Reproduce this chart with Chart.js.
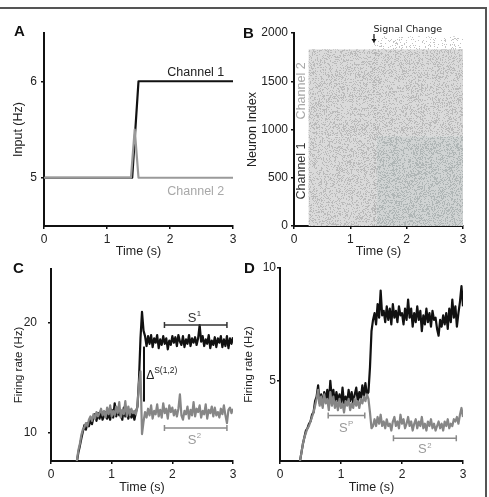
<!DOCTYPE html>
<html lang="en">
<head>
<meta charset="UTF-8">
<title>Input, raster and firing rates</title>
<script src="https://cdn.jsdelivr.net/npm/chart.js"></script>
<style>
  html, body { margin: 0; padding: 0; background: #fff; }
  #fig { position: relative; width: 489px; height: 497px; overflow: hidden; }
  #fig canvas { position: absolute; }
  .frame { position: absolute; left: 0; top: 7px; width: 485px; height: 495px;
           border-top: 2px solid #555; border-right: 2px solid #555; }
  .tag { position: absolute; font: bold 15px "Liberation Sans", Arial, sans-serif; color: #111; }
</style>
</head>
<body>
<div id="fig">
  <div class="frame"></div>
  <canvas id="cA" width="245" height="262" style="left:0;top:0"></canvas>
  <canvas id="cB" width="244" height="262" style="left:245px;top:0"></canvas>
  <canvas id="cC" width="240" height="247" style="left:0;top:250px"></canvas>
  <canvas id="cD" width="249" height="247" style="left:240px;top:250px"></canvas>
  <div class="tag" style="left:14px;top:22px">A</div>
  <div class="tag" style="left:243px;top:24px">B</div>
  <div class="tag" style="left:13px;top:259px">C</div>
  <div class="tag" style="left:244px;top:259px">D</div>
</div>

<script>
const FONT = '"Liberation Sans", Arial, Helvetica, sans-serif';
const INK = '#111';
const GREY = '#868686';

const timeTicks = [0, 1, 2, 3];

// A: input rates of the two channels
const inputT1 = [0, 1.4, 1.5, 3];
const inputV1 = [5, 5, 6, 6];
const inputT2 = [0, 1.38, 1.44, 1.5, 3];
const inputV2 = [5, 5, 5.5, 5, 5];

// B: raster blocks (time span, neuron span, spike density)
const blockT0 = [0.26, 0.26, 1.47, 1.41, 1.40];
const blockT1 = [3.0, 1.47, 3.0, 1.46, 3.0];
const blockN0 = [930, 0, 0, 0, 1830];
const blockN1 = [1830, 930, 930, 1830, 1965];
const blockDensity = [0.3, 0.3, 0.36, 0.25, 0.12];
const neuronTicks = [0, 500, 1000, 1500, 2000];
const signalChangeT = 1.42;

// C: firing rates, channel 1 (c1) and channel 2 (c2)
const tC = [
  0.425,0.45,0.475,0.5,0.525,0.55,0.575,0.6,0.625,0.65,
  0.675,0.7,0.725,0.75,0.775,0.8,0.825,0.85,0.875,0.9,
  0.925,0.95,0.975,1.0,1.025,1.05,1.075,1.1,1.125,1.15,
  1.175,1.2,1.225,1.25,1.275,1.3,1.325,1.35,1.375,1.4,
  1.425,1.45,1.475,1.5,1.525,1.55,1.575,1.6,1.625,1.65,
  1.675,1.7,1.725,1.75,1.775,1.8,1.825,1.85,1.875,1.9,
  1.925,1.95,1.975,2.0,2.025,2.05,2.075,2.1,2.125,2.15,
  2.175,2.2,2.225,2.25,2.275,2.3,2.325,2.35,2.375,2.4,
  2.425,2.45,2.475,2.5,2.525,2.55,2.575,2.6,2.625,2.65,
  2.675,2.7,2.725,2.75,2.775,2.8,2.825,2.85,2.875,2.9,
  2.925,2.95,2.975,3.0
];
const c1 = [
  7.3,8.2,8.8,9.5,10.1,10.7,10.3,10.9,10.6,11.2,
  10.8,11.4,11.7,11.1,11.8,11.3,11.9,11.2,11.6,11.9,
  11.3,11.8,11.2,12.1,11.4,12.7,11.5,12.2,11.6,12.0,
  11.2,12.3,11.5,11.9,11.3,12.1,11.4,11.8,11.2,11.9,
  12.4,14.8,18.6,21.0,19.3,18.8,17.9,18.8,18.1,18.9,
  17.8,18.6,18.2,18.9,17.7,18.5,18.0,18.8,18.1,18.6,
  17.6,18.4,18.0,18.8,18.2,18.7,17.9,18.9,18.3,18.0,
  18.8,17.8,18.5,18.1,18.9,17.9,18.6,18.2,18.7,18.0,
  18.6,19.8,18.3,18.8,17.9,18.5,18.1,18.9,17.7,18.4,
  18.0,18.7,17.8,18.6,18.2,18.8,17.8,18.5,17.9,18.8,
  17.7,18.6,18.1,18.7
];
const c2 = [
  7.4,8.4,9.0,9.8,10.3,10.5,10.9,10.6,11.2,11.5,
  11.1,11.7,11.3,11.9,11.5,11.8,12.2,11.6,12.0,11.4,
  12.3,11.7,12.5,11.5,12.0,11.6,12.4,11.8,12.8,11.4,
  12.1,11.7,12.9,11.5,12.4,11.6,12.2,11.8,12.0,11.7,
  12.4,14.5,15.6,9.9,11.0,11.9,11.4,12.2,11.6,12.5,
  11.3,12.0,11.7,12.6,11.5,12.1,11.4,12.7,11.8,12.2,
  11.3,12.5,11.9,12.3,11.6,12.1,11.5,12.2,13.5,11.6,
  11.2,12.0,11.7,12.4,11.3,12.1,11.6,12.8,11.5,12.2,
  11.9,12.5,11.4,12.0,11.7,12.6,11.3,12.1,11.8,12.4,
  11.5,12.3,11.6,11.9,11.4,12.2,11.7,12.5,11.6,10.9,
  12.1,12.3,11.8,12.2
];
const cBarFrom = [1.87, 1.87];
const cBarTo = [2.9, 2.9];
const cBarLevel = [19.8, 10.45];
const cTagT = [2.36, 2.36];
const cTagV = [20.55, 9.45];
const cTagSup = ['1', '2'];
const cDeltaT = 1.533;
const cDeltaSpan = [12.85, 17.85];

// D: firing rates, channel 1 (d1) and channel 2 (d2)
const tD = [
  0.325,0.35,0.375,0.4,0.425,0.45,0.475,0.5,0.525,0.55,
  0.575,0.6,0.625,0.65,0.675,0.7,0.725,0.75,0.775,0.8,
  0.825,0.85,0.875,0.9,0.925,0.95,0.975,1.0,1.025,1.05,
  1.075,1.1,1.125,1.15,1.175,1.2,1.225,1.25,1.275,1.3,
  1.325,1.35,1.375,1.4,1.425,1.45,1.475,1.5,1.525,1.55,
  1.575,1.6,1.625,1.65,1.675,1.7,1.725,1.75,1.775,1.8,
  1.825,1.85,1.875,1.9,1.925,1.95,1.975,2.0,2.025,2.05,
  2.075,2.1,2.125,2.15,2.175,2.2,2.225,2.25,2.275,2.3,
  2.325,2.35,2.375,2.4,2.425,2.45,2.475,2.5,2.525,2.55,
  2.575,2.6,2.625,2.65,2.675,2.7,2.725,2.75,2.775,2.8,
  2.825,2.85,2.875,2.9,2.925,2.95,2.975,3.0
];
const d1 = [
  1.4,1.8,2.2,2.5,2.8,2.9,3.1,3.2,3.5,3.6,
  4.1,4.3,4.8,4.0,4.4,3.9,4.5,4.1,4.6,4.0,
  5.0,4.2,4.6,4.0,4.5,4.1,4.4,3.9,4.7,4.0,
  4.3,4.0,4.6,4.1,4.5,4.0,4.4,4.7,4.1,4.5,
  4.2,4.8,4.3,4.9,4.4,4.5,5.6,7.2,7.7,8.0,
  7.5,8.4,7.8,9.0,7.9,8.1,7.6,8.3,7.7,8.2,
  7.5,8.4,7.8,8.1,7.6,8.3,7.9,8.0,7.5,8.2,
  7.7,8.6,7.8,8.2,7.4,8.0,7.6,8.3,7.7,8.1,
  7.2,7.9,7.5,8.2,7.6,8.0,7.4,8.1,7.7,7.8,
  7.3,7.0,7.7,7.4,7.9,7.5,8.0,7.3,8.2,7.6,
  8.6,7.8,8.3,7.4,8.0,8.5,9.2,8.3
];
const d2 = [
  1.4,1.8,2.2,2.5,2.7,2.9,3.0,3.2,3.4,3.6,
  3.9,4.2,4.6,3.9,4.3,3.8,4.4,4.0,4.2,3.7,
  4.5,3.9,4.3,3.8,4.1,3.7,4.2,3.8,4.0,3.6,
  4.1,3.9,4.2,3.7,4.0,3.8,4.2,3.9,4.1,3.8,
  4.2,4.0,4.3,4.1,4.4,4.2,3.6,2.9,3.0,3.3,
  3.0,3.4,3.1,3.5,3.0,3.2,2.9,3.3,3.0,3.1,
  2.8,3.2,3.4,3.0,3.2,2.9,3.5,3.1,3.3,2.9,
  3.1,3.4,3.0,3.2,2.8,3.1,3.3,2.9,3.2,3.0,
  3.4,2.9,3.1,2.8,3.2,3.0,3.3,2.9,3.1,2.8,
  3.0,3.2,2.9,3.1,2.8,3.2,3.0,3.3,2.9,3.1,
  3.0,3.3,3.2,3.4,3.1,3.5,3.8,3.4
];
const dBarFrom = [0.79, 1.86];
const dBarTo = [1.39, 2.89];
const dBarLevel = [3.47, 2.46];
const dTagT = [1.08, 2.37];
const dTagV = [2.96, 2.0];
const dTagSup = ['P', '2'];

const pts = (ts, vs) => ts.map((t, i) => ({ x: t, y: vs[i] }));

function lineSet(data, colour) {
  return { data, borderColor: colour, borderWidth: 2.2, pointRadius: 0, tension: 0,
           borderJoinStyle: 'round', fill: false };
}

// axes shared by all four panels; g holds the panel geometry
function axisSet(g) {
  const tickFont = { family: FONT, size: 12 };
  return {
    x: {
      type: 'linear', min: 0, max: 3,
      afterBuildTicks: s => { s.ticks = timeTicks.map(v => ({ value: v })); },
      afterFit: s => { s.height = g.xh; },
      border: { display: true, color: INK, width: 2 },
      grid: { drawOnChartArea: false, drawTicks: true, tickLength: 3, color: INK, lineWidth: 1.5 },
      ticks: { color: '#222', font: tickFont, padding: 3, maxRotation: 0, autoSkip: false,
               callback: v => String(v) },
      title: { display: true, text: 'Time (s)', color: '#222', font: { family: FONT, size: 12.5 },
               padding: { top: 0, bottom: g.tb } }
    },
    y: {
      type: 'linear', min: g.ymin, max: g.ymax,
      afterBuildTicks: s => { s.ticks = g.yticks.map(v => ({ value: v })); },
      afterFit: s => { s.width = g.yw; },
      border: { display: true, color: INK, width: 2 },
      grid: { drawOnChartArea: false, drawTicks: true, tickLength: 3, color: INK, lineWidth: 1.5 },
      ticks: { color: '#222', font: tickFont, padding: g.yp, autoSkip: false,
               callback: v => String(v) },
      title: { display: true, text: g.ytitle, color: '#222', font: { family: FONT, size: g.ts },
               padding: { top: g.tp, bottom: 0 } }
    }
  };
}

function baseOptions(g) {
  return {
    responsive: false,
    animation: false,
    layout: { padding: { top: g.top, right: g.right, left: 0, bottom: 0 } },
    plugins: { legend: { display: false }, tooltip: { enabled: false } },
    scales: axisSet(g)
  };
}

function text(ctx, str, x, y, colour, size, family) {
  ctx.save();
  ctx.fillStyle = colour;
  ctx.font = size + 'px ' + (family || FONT);
  ctx.textAlign = 'center';
  ctx.textBaseline = 'middle';
  ctx.fillText(str, x, y);
  ctx.restore();
}

function vtext(ctx, str, x, y, colour, size) {
  ctx.save();
  ctx.translate(x, y);
  ctx.rotate(-Math.PI / 2);
  text(ctx, str, 0, 0, colour, size);
  ctx.restore();
}

// "S" with a raised small label, centred on (x, y)
function supText(ctx, x, y, base, sup, colour, size) {
  ctx.save();
  ctx.fillStyle = colour;
  ctx.textAlign = 'left';
  ctx.textBaseline = 'alphabetic';
  const small = size * 0.6;
  ctx.font = size + 'px ' + FONT;
  const w1 = ctx.measureText(base).width;
  ctx.font = small + 'px ' + FONT;
  const w2 = ctx.measureText(sup).width;
  const x0 = x - (w1 + w2) / 2;
  const baseY = y + size * 0.36;
  ctx.font = size + 'px ' + FONT;
  ctx.fillText(base, x0, baseY);
  ctx.font = small + 'px ' + FONT;
  ctx.fillText(sup, x0 + w1 + 0.5, baseY - size * 0.42);
  ctx.restore();
}

function drawBars(chart, from, to, level, colours) {
  const { ctx, scales: { x, y } } = chart;
  ctx.save();
  ctx.lineWidth = 1.5;
  from.forEach((f, i) => {
    const x0 = x.getPixelForValue(f), x1 = x.getPixelForValue(to[i]);
    const yy = y.getPixelForValue(level[i]);
    ctx.strokeStyle = colours[i];
    ctx.beginPath();
    ctx.moveTo(x0, yy); ctx.lineTo(x1, yy);
    ctx.moveTo(x0, yy - 3); ctx.lineTo(x0, yy + 3);
    ctx.moveTo(x1, yy - 3); ctx.lineTo(x1, yy + 3);
    ctx.stroke();
  });
  ctx.restore();
}

// ---------- A ----------
new Chart(document.getElementById('cA'), {
  type: 'line',
  data: { datasets: [
    lineSet(pts(inputT2, inputV2), '#9a9a9a'),
    lineSet(pts(inputT1, inputV1), INK)
  ] },
  options: baseOptions({ top: 33, right: 12, xh: 36, yw: 44, yp: 4, tp: 11.5, tb: 2.5, ts: 12.5,
                         ymin: 4.5, ymax: 6.5, yticks: [5, 6], ytitle: 'Input (Hz)' }),
  plugins: [{
    afterDraw(chart) {
      const { ctx, scales: { x, y } } = chart;
      text(ctx, 'Channel 1', x.getPixelForValue(2.41), y.getPixelForValue(6.094), '#222', 12.5);
      text(ctx, 'Channel 2', x.getPixelForValue(2.41), y.getPixelForValue(4.854), '#a8a8a8', 12.5);
    }
  }]
});

// ---------- B ----------
// tone under each block (null = none) and colour of its grain
const blockBase = ['rgb(218,218,218)', 'rgb(218,218,218)', 'rgb(208,211,211)', null, null];
const blockGrain = ['rgb(186,186,186)', 'rgb(186,186,186)', 'rgb(176,182,182)',
                    'rgb(178,178,178)', 'rgb(195,195,195)'];

// fine stipple texture for the raster blocks
function hash(n) {
  n = Math.imul(n ^ (n >>> 16), 0x45d9f3b);
  n = Math.imul(n ^ (n >>> 16), 0x45d9f3b);
  n = n ^ (n >>> 16);
  return (n >>> 0) / 4294967296;
}
function stipple(ctx, density, colour, seed) {
  const size = 157;
  const c = document.createElement('canvas');
  c.width = c.height = size;
  const g = c.getContext('2d');
  g.fillStyle = colour;
  for (let j = 0; j < size; j++) {
    for (let i = 0; i < size; i++) {
      if (hash(j * size + i + seed * 65537 + 1) < density) g.fillRect(i, j, 1, 1);
    }
  }
  return ctx.createPattern(c, 'repeat');
}

new Chart(document.getElementById('cB'), {
  type: 'scatter',
  data: { datasets: [] },
  options: baseOptions({ top: 33, right: 26, xh: 36, yw: 49, yp: 3, tp: 0, tb: 2.5, ts: 12.5,
                         ymin: 0, ymax: 2000, yticks: neuronTicks, ytitle: 'Neuron Index' }),
  plugins: [{
    beforeDatasetsDraw(chart) {
      const { ctx, chartArea: a, scales: { x, y } } = chart;
      ctx.save();
      ctx.beginPath();
      ctx.rect(a.left, a.top, a.right - a.left, a.bottom - a.top);
      ctx.clip();
      blockT0.forEach((t0, i) => {
        const x0 = x.getPixelForValue(t0), x1 = x.getPixelForValue(blockT1[i]);
        const y0 = y.getPixelForValue(blockN1[i]), y1 = y.getPixelForValue(blockN0[i]);
        if (blockBase[i]) {
          ctx.fillStyle = blockBase[i];
          ctx.fillRect(x0, y0, x1 - x0, y1 - y0);
        }
        ctx.fillStyle = stipple(ctx, blockDensity[i], blockGrain[i], i + 1);
        ctx.fillRect(x0, y0, x1 - x0, y1 - y0);
      });
      ctx.restore();
    },
    afterDraw(chart) {
      const { ctx, scales: { x, y } } = chart;
      vtext(ctx, 'Channel 2', x.getPixelForValue(0.14), y.getPixelForValue(1400), '#a8a8a8', 12.5);
      vtext(ctx, 'Channel 1', x.getPixelForValue(0.14), y.getPixelForValue(570), '#333', 12.5);
      text(ctx, 'Signal Change', x.getPixelForValue(2.02), y.getPixelForValue(2041), '#222', 9.5,
           '"DejaVu Sans", Verdana, sans-serif');
      const ax = x.getPixelForValue(signalChangeT);
      const ay0 = y.getPixelForValue(1990), ay1 = y.getPixelForValue(1896);
      ctx.save();
      ctx.strokeStyle = INK; ctx.fillStyle = INK; ctx.lineWidth = 1.2;
      ctx.beginPath(); ctx.moveTo(ax, ay0); ctx.lineTo(ax, ay1 - 3); ctx.stroke();
      ctx.beginPath(); ctx.moveTo(ax - 2.5, ay1 - 4); ctx.lineTo(ax + 2.5, ay1 - 4); ctx.lineTo(ax, ay1);
      ctx.closePath(); ctx.fill();
      ctx.restore();
    }
  }]
});

// ---------- C ----------
new Chart(document.getElementById('cC'), {
  type: 'line',
  data: { datasets: [
    lineSet(pts(tC, c2), GREY),
    lineSet(pts(tC, c1), INK)
  ] },
  options: baseOptions({ top: 19, right: 7, xh: 36, yw: 51, yp: 11, tp: 12, tb: 1.5, ts: 11.5,
                         ymin: 7.45, ymax: 24.9, yticks: [10, 20], ytitle: 'Firing rate (Hz)' }),
  plugins: [{
    afterDraw(chart) {
      const { ctx, scales: { x, y } } = chart;
      drawBars(chart, cBarFrom, cBarTo, cBarLevel, ['#333', '#8a8a8a']);
      supText(ctx, x.getPixelForValue(cTagT[0]), y.getPixelForValue(cTagV[0]), 'S', cTagSup[0], '#333', 13);
      supText(ctx, x.getPixelForValue(cTagT[1]), y.getPixelForValue(cTagV[1]), 'S', cTagSup[1], '#9a9a9a', 13);
      const dx = x.getPixelForValue(cDeltaT);
      ctx.save();
      ctx.strokeStyle = INK; ctx.lineWidth = 2;
      ctx.beginPath();
      ctx.moveTo(dx, y.getPixelForValue(cDeltaSpan[0]));
      ctx.lineTo(dx, y.getPixelForValue(cDeltaSpan[1]));
      ctx.stroke();
      ctx.restore();
      const lx = x.getPixelForValue(1.635), ly = y.getPixelForValue(15.3);
      ctx.save();
      ctx.fillStyle = '#222';
      ctx.textBaseline = 'alphabetic';
      ctx.font = '12px ' + FONT;
      ctx.fillText('\u0394', lx - 4, ly + 4.5);
      ctx.font = '8.5px ' + FONT;
      ctx.fillText('S(1,2)', lx + 4, ly - 1.5);
      ctx.restore();
    }
  }]
});

// ---------- D ----------
new Chart(document.getElementById('cD'), {
  type: 'line',
  data: { datasets: [
    lineSet(pts(tD, d2), GREY),
    lineSet(pts(tD, d1), INK)
  ] },
  options: baseOptions({ top: 18, right: 26, xh: 36, yw: 40, yp: 1, tp: 2, tb: 1.5, ts: 11.5,
                         ymin: 1.45, ymax: 10, yticks: [5, 10], ytitle: 'Firing rate (Hz)' }),
  plugins: [{
    afterDraw(chart) {
      const { ctx, scales: { x, y } } = chart;
      drawBars(chart, dBarFrom, dBarTo, dBarLevel, ['#8a8a8a', '#8a8a8a']);
      supText(ctx, x.getPixelForValue(dTagT[0]), y.getPixelForValue(dTagV[0]), 'S', dTagSup[0], '#9a9a9a', 13);
      supText(ctx, x.getPixelForValue(dTagT[1]), y.getPixelForValue(dTagV[1]), 'S', dTagSup[1], '#9a9a9a', 13);
    }
  }]
});
</script>
</body>
</html>
